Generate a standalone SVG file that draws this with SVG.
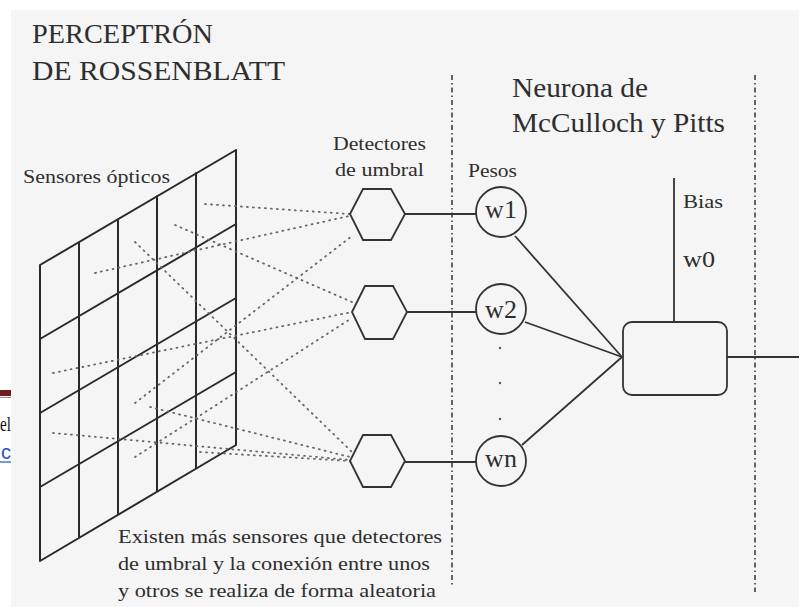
<svg xmlns="http://www.w3.org/2000/svg" width="799" height="607" viewBox="0 0 799 607">
<style>
.t{font-family:"Liberation Serif","DejaVu Serif",serif;fill:#2e2e2e}
.grid{stroke:#2a2a2a;stroke-width:2;fill:none;stroke-linecap:round}
.dot{stroke:#666;stroke-width:1.8;fill:none;stroke-dasharray:1 5;stroke-linecap:round}
.solid{stroke:#333;stroke-width:1.8;fill:none}
.node{stroke:#333;stroke-width:1.8;fill:none}
.sep{stroke:#333;stroke-width:1.5;fill:none;stroke-dasharray:5 3 1.5 3}
</style>
<defs>
<linearGradient id="topline" x1="0" y1="0" x2="1" y2="0">
<stop offset="0" stop-color="#555" stop-opacity="0"/>
<stop offset="0.4" stop-color="#444" stop-opacity="0.9"/>
<stop offset="1" stop-color="#333"/>
</linearGradient>
</defs>
<rect x="0" y="0" width="799" height="607" fill="#fff"/>
<rect x="11" y="10" width="788" height="597" fill="#f5f5f5"/>
<line x1="150" y1="10.5" x2="799" y2="10.5" stroke="url(#topline)" stroke-width="2"/>
<g id="page-fragment">
<rect x="0" y="390" width="11" height="6" fill="#6b1e1e"/>
<line x1="0" y1="397.5" x2="11" y2="397.5" stroke="#b08080" stroke-width="1"/>
<text x="0" y="431" font-family="Liberation Serif,serif" font-size="22" fill="#111" textLength="11" lengthAdjust="spacingAndGlyphs">el</text>
<text x="1" y="459" font-family="Liberation Sans,sans-serif" font-size="20" fill="#1a55c8">c</text>
<line x1="0" y1="462" x2="11" y2="462" stroke="#1a55c8" stroke-width="1.2"/>
</g>
<g id="titles">
<text class="t" x="32" y="43" font-size="27" textLength="181" lengthAdjust="spacingAndGlyphs">PERCEPTRÓN</text>
<text class="t" x="32" y="80" font-size="27" textLength="253" lengthAdjust="spacingAndGlyphs">DE ROSSENBLATT</text>
<text class="t" x="512" y="97" font-size="27" textLength="136" lengthAdjust="spacingAndGlyphs">Neurona de</text>
<text class="t" x="512" y="132" font-size="27" textLength="213" lengthAdjust="spacingAndGlyphs">McCulloch y Pitts</text>
</g>
<g id="separators">
<line class="sep" x1="452" y1="75" x2="452" y2="586"/>
<line class="sep" x1="755" y1="75" x2="755" y2="592" stroke="#777"/>
</g>
<g id="sensores">
<text class="t" x="23" y="183" font-size="18" textLength="147" lengthAdjust="spacingAndGlyphs">Sensores ópticos</text>
<path class="grid" d="M40 265 L236 150 M40 339 L236 224 M40 413 L236 298 M40 487 L236 372 M40 561 L236 445 M40 265 L40 561 M79 242 L79 538 M118 219 L118 514 M157 196 L157 491 M196 173 L196 468 M236 150 L236 445"/>
</g>
<g id="connectors">
<g id="random-connections">
<line class="dot" x1="205" y1="204" x2="349" y2="214"/>
<line class="dot" x1="95" y1="273" x2="349" y2="216"/>
<line class="dot" x1="135" y1="403" x2="352" y2="236"/>
<line class="dot" x1="175" y1="225" x2="352" y2="302"/>
<line class="dot" x1="53" y1="373" x2="352" y2="312"/>
<line class="dot" x1="135" y1="457" x2="352" y2="318"/>
<line class="dot" x1="135" y1="242" x2="352" y2="452"/>
<line class="dot" x1="53" y1="433" x2="350" y2="460"/>
<line class="dot" x1="200" y1="452" x2="350" y2="461"/>
<line class="dot" x1="150" y1="407" x2="350" y2="457"/>
</g>
<line class="solid" x1="405" y1="214" x2="476" y2="214"/>
<line class="solid" x1="407" y1="312" x2="476" y2="312"/>
<line class="solid" x1="405" y1="462" x2="476" y2="462"/>
<line class="solid" x1="515" y1="236" x2="622" y2="357"/>
<line class="solid" x1="525" y1="322" x2="622" y2="357"/>
<line class="solid" x1="522" y1="445" x2="622" y2="357"/>
<line class="solid" x1="674" y1="178" x2="674" y2="322"/>
<line class="solid" x1="727" y1="357" x2="799" y2="357"/>
</g>
<g id="detectores">
<text class="t" x="333" y="150" font-size="18" textLength="93" lengthAdjust="spacingAndGlyphs">Detectores</text>
<text class="t" x="335" y="176" font-size="18" textLength="89" lengthAdjust="spacingAndGlyphs">de umbral</text>
</g>
<g id="hex1"><polygon class="node" points="350,214 363,189 391,189 405,214 391,240 363,240"/></g>
<g id="hex2"><polygon class="node" points="352,312 365,286 393,286 407,312 393,339 365,339"/></g>
<g id="hex3"><polygon class="node" points="350,461 363,435 391,435 405,461 391,487 363,487"/></g>
<g id="pesos">
<text class="t" x="468" y="177" font-size="18" textLength="49" lengthAdjust="spacingAndGlyphs">Pesos</text>
</g>
<g id="w1"><circle class="node" cx="501" cy="212" r="25"/><text class="t" x="501" y="218" font-size="26" text-anchor="middle">w1</text></g>
<g id="w2"><circle class="node" cx="501" cy="309" r="25"/><text class="t" x="501" y="318" font-size="26" text-anchor="middle">w2</text></g>
<g id="ellipsis"><circle cx="500" cy="348" r="1.2" fill="#555"/><circle cx="500" cy="383" r="1.2" fill="#555"/><circle cx="500" cy="419" r="1.2" fill="#555"/></g>
<g id="wn"><circle class="node" cx="501" cy="461" r="25"/><text class="t" x="501" y="467" font-size="26" text-anchor="middle">wn</text></g>
<g id="bias">
<text class="t" x="683" y="208" font-size="19" textLength="40" lengthAdjust="spacingAndGlyphs">Bias</text>
<text class="t" x="683" y="267" font-size="24" textLength="32" lengthAdjust="spacingAndGlyphs">w0</text>
</g>
<g id="neurona"><rect class="node" x="623" y="322" width="104" height="73" rx="9"/></g>
<g id="nota">
<text class="t" x="118" y="543" font-size="19" textLength="324" lengthAdjust="spacingAndGlyphs">Existen más sensores que detectores</text>
<text class="t" x="118" y="570" font-size="19" textLength="312" lengthAdjust="spacingAndGlyphs">de umbral y la conexión entre unos</text>
<text class="t" x="118" y="597" font-size="19" textLength="318" lengthAdjust="spacingAndGlyphs">y otros se realiza de forma aleatoria</text>
</g>
</svg>
